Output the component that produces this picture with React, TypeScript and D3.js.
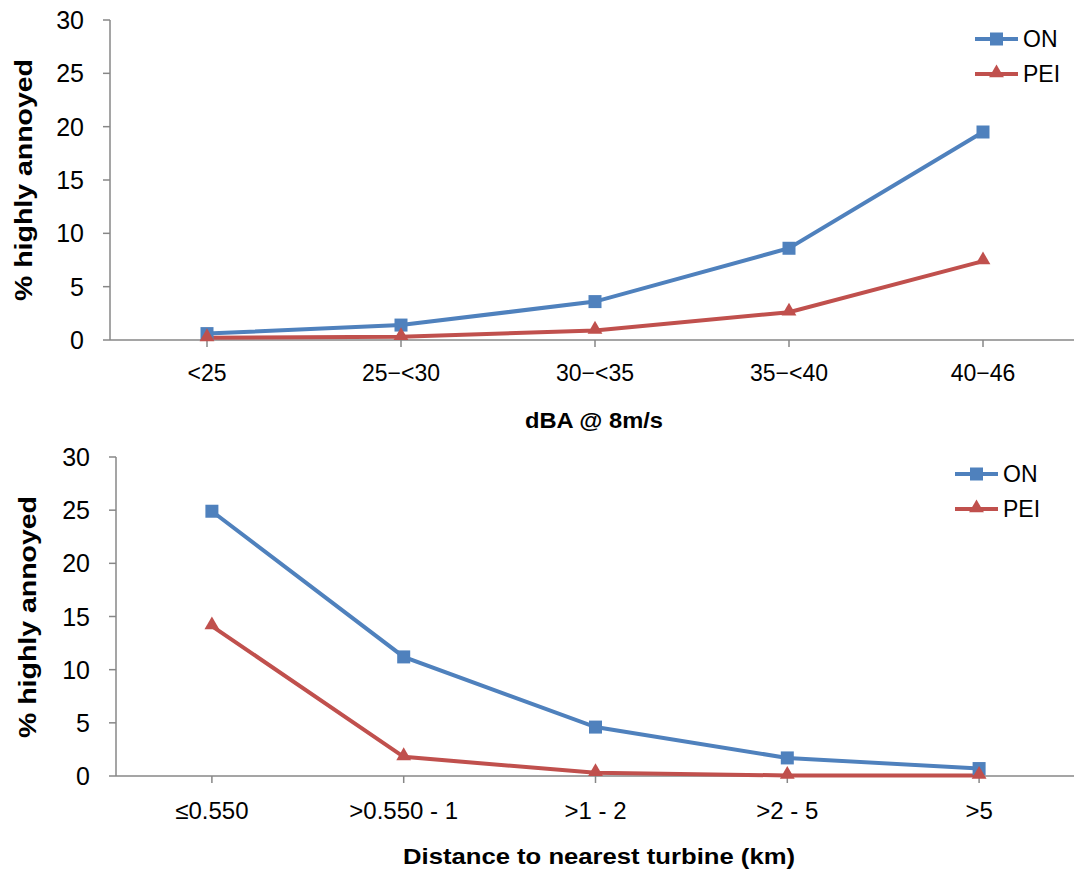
import React from "react";
import * as d3 from "d3";

const dbaCategories = ["<25", "25\u2212<30", "30\u2212<35", "35\u2212<40", "40\u221246"];
const dbaON = [0.6, 1.4, 3.6, 8.6, 19.5];
const dbaPEI = [0.2, 0.3, 0.9, 2.6, 7.4];

const distCategories = ["\u22640.550", ">0.550 - 1", ">1 - 2", ">2 - 5", ">5"];
const distON = [24.9, 11.2, 4.6, 1.7, 0.7];
const distPEI = [14.1, 1.8, 0.3, 0.05, 0.05];

const yTicks = [0, 5, 10, 15, 20, 25, 30];
const seriesNames = ["ON", "PEI"];

const BLUE = "#4F81BD";
const RED = "#C0504D";
const AXIS = "#878787";
const FONT = "'Liberation Sans', Arial, sans-serif";

type ChartProps = {
  categories: string[];
  on: number[];
  pei: number[];
  left: number;
  right: number;
  top: number;
  bottom: number;
  xTitle: string;
  xTitleX: number;
  xTitleY: number;
  xTitleLen: number;
  tickLabelY: number;
  tickFont: number;
  yLabelX: number;
  yLabelCenter: number;
  legendX: number;
  legendY: number;
};

function Chart(p: ChartProps) {
  const x = d3.scaleBand<string>().domain(p.categories).range([p.left, p.right]).padding(0);
  const y = d3.scaleLinear().domain([0, 30]).range([p.bottom, p.top]);
  const cx = (c: string) => (x(c) as number) + x.bandwidth() / 2;
  const line = d3
    .line<number>()
    .x((_, i) => cx(p.categories[i]))
    .y((d) => y(d));
  const tri = d3.symbol().type(d3.symbolTriangle).size(95);
  const sq = 13;
  const legendGap = 35;
  return (
    <g>
      {/* y axis */}
      <line x1={p.left} x2={p.left} y1={p.top} y2={p.bottom} stroke={AXIS} strokeWidth={1.5} />
      {yTicks.map((t) => (
        <g key={t}>
          <line x1={p.left - 7} x2={p.left} y1={y(t)} y2={y(t)} stroke={AXIS} strokeWidth={1.5} />
          <text
            x={p.left - 26}
            y={y(t)}
            dy="0.36em"
            textAnchor="end"
            fontSize={25}
            fontFamily={FONT}
            fill="#000"
          >
            {t}
          </text>
        </g>
      ))}
      <text
        transform={`translate(${p.yLabelX},${p.yLabelCenter}) rotate(-90)`}
        textAnchor="middle"
        dy="0.36em"
        fontSize={24}
        fontWeight="bold"
        fontFamily={FONT}
        textLength={242}
        lengthAdjust="spacingAndGlyphs"
        fill="#000"
      >
        % highly annoyed
      </text>
      {/* x axis */}
      <line x1={p.left} x2={1074} y1={p.bottom} y2={p.bottom} stroke={AXIS} strokeWidth={1.5} />
      {p.categories.map((c) => (
        <g key={c}>
          <line x1={cx(c)} x2={cx(c)} y1={p.bottom} y2={p.bottom + 7} stroke={AXIS} strokeWidth={1.5} />
          <text
            x={cx(c)}
            y={p.tickLabelY}
            textAnchor="middle"
            fontSize={p.tickFont}
            fontFamily={FONT}
            fill="#000"
          >
            {c}
          </text>
        </g>
      ))}
      <text
        x={p.xTitleX}
        y={p.xTitleY}
        textAnchor="middle"
        fontSize={22}
        fontWeight="bold"
        fontFamily={FONT}
        textLength={p.xTitleLen}
        lengthAdjust="spacingAndGlyphs"
        fill="#000"
      >
        {p.xTitle}
      </text>
      {/* series */}
      <path d={line(p.on) || ""} fill="none" stroke={BLUE} strokeWidth={4} />
      <path d={line(p.pei) || ""} fill="none" stroke={RED} strokeWidth={4} />
      {p.on.map((v, i) => (
        <rect
          key={"on" + i}
          x={cx(p.categories[i]) - sq / 2}
          y={y(v) - sq / 2}
          width={sq}
          height={sq}
          fill={BLUE}
        />
      ))}
      {p.pei.map((v, i) => (
        <path
          key={"pei" + i}
          d={tri() || ""}
          transform={`translate(${cx(p.categories[i])},${y(v) - 1})`}
          fill={RED}
        />
      ))}
      {/* legend */}
      {seriesNames.map((s, i) => {
        const ly = p.legendY + i * legendGap;
        const col = i === 0 ? BLUE : RED;
        return (
          <g key={s}>
            <line x1={p.legendX} x2={p.legendX + 43} y1={ly} y2={ly} stroke={col} strokeWidth={4} />
            {i === 0 ? (
              <rect x={p.legendX + 21.5 - sq / 2} y={ly - sq / 2} width={sq} height={sq} fill={col} />
            ) : (
              <path d={tri() || ""} transform={`translate(${p.legendX + 21.5},${ly - 1})`} fill={col} />
            )}
            <text
              x={p.legendX + 48}
              y={ly}
              dy="0.36em"
              fontSize={23}
              fontFamily={FONT}
              fill="#000"
            >
              {s}
            </text>
          </g>
        );
      })}
    </g>
  );
}

export default function App() {
  return (
    <svg
      width={1074}
      height={873}
      style={{ position: "absolute", left: 0, top: 0, background: "#fff" }}
    >
      <rect width={1074} height={873} fill="#fff" />
      <Chart
        categories={dbaCategories}
        on={dbaON}
        pei={dbaPEI}
        left={110}
        right={1080}
        top={20}
        bottom={340}
        xTitle="dBA @ 8m/s"
        xTitleX={594}
        xTitleY={428}
        xTitleLen={138}
        tickLabelY={381}
        tickFont={23}
        yLabelX={23}
        yLabelCenter={180}
        legendX={975}
        legendY={39}
      />
      <Chart
        categories={distCategories}
        on={distON}
        pei={distPEI}
        left={116}
        right={1075}
        top={457}
        bottom={776}
        xTitle="Distance to nearest turbine (km)"
        xTitleX={599}
        xTitleY={864}
        xTitleLen={392}
        tickLabelY={819}
        tickFont={24}
        yLabelX={27}
        yLabelCenter={617}
        legendX={955}
        legendY={474}
      />
    </svg>
  );
}
